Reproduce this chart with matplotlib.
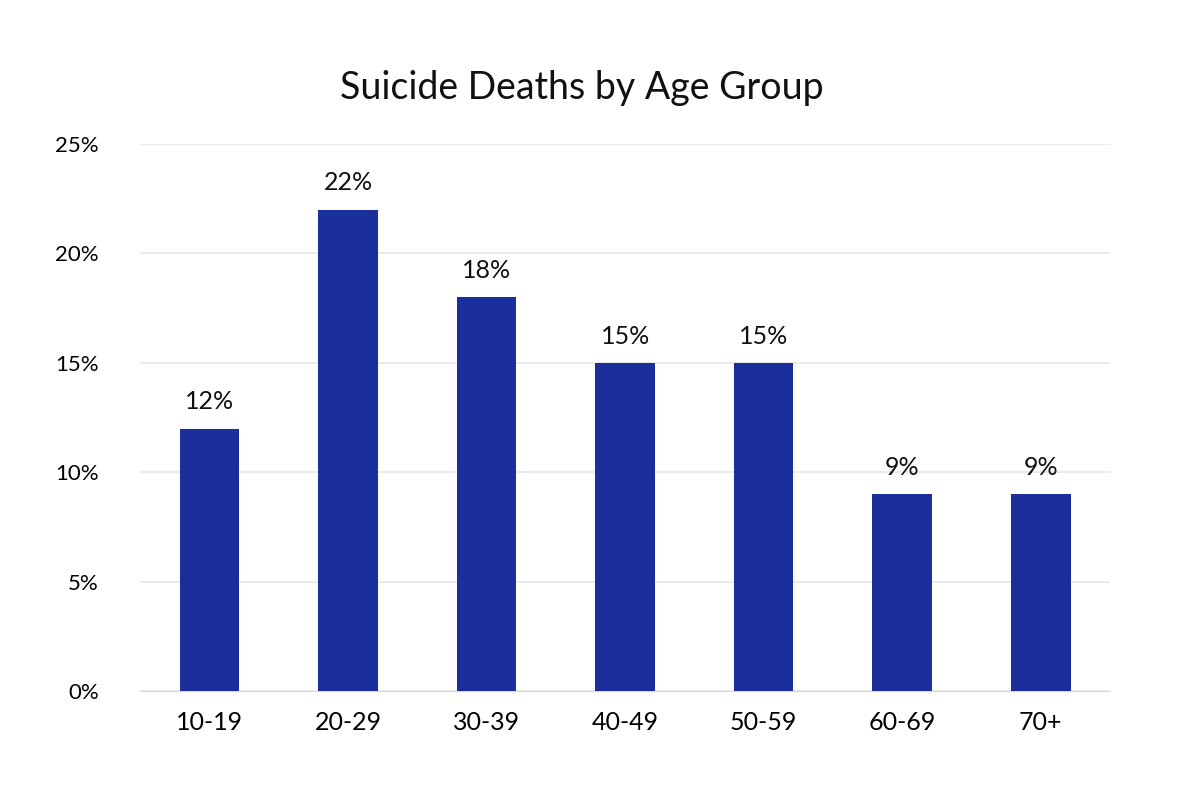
import matplotlib
matplotlib.use("Agg")
import matplotlib.pyplot as plt

categories = ["10-19", "20-29", "30-39", "40-49", "50-59", "60-69", "70+"]
values = [12, 22, 18, 15, 15, 9, 9]
yticks = [0, 5, 10, 15, 20, 25]

plt.rcParams["font.family"] = "Lato"
fig = plt.figure(figsize=(12, 8), dpi=100)
ax = fig.add_axes([0.117, 0.136, 0.808, 0.684])
x = range(len(categories))
ax.bar(x, values, width=0.43, color="#1B2F9C", zorder=3)
for xi, v in zip(x, values):
    ax.text(xi, v + 0.7, f"{v}%", ha="center", va="bottom", fontsize=18, color="#111111")
ax.set_xlim(-0.5, len(categories) - 0.5)
ax.set_ylim(0, 25)
ax.set_yticks(yticks)
ax.set_yticklabels([f"{t}%" for t in yticks], fontsize=16)
ax.set_xticks(list(x))
ax.set_xticklabels(categories, fontsize=18)
ax.yaxis.grid(True, color="#E6E6E6", linewidth=1.2, zorder=0)
for s in ax.spines.values():
    s.set_visible(False)
ax.spines["bottom"].set_visible(True)
ax.spines["bottom"].set_color("#D9D9D9")
ax.tick_params(length=0, pad=14)
ax.tick_params(axis="y", pad=30)
fig.text(0.485, 0.89, "Suicide Deaths by Age Group", ha="center", va="center", fontsize=27, color="#111111")
fig.savefig("out.png", dpi=100)
